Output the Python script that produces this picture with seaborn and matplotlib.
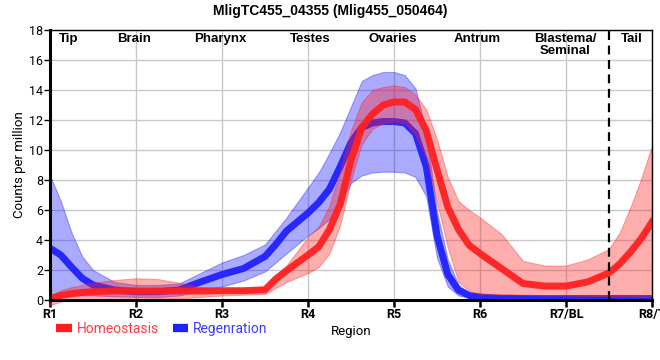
import numpy as np
import pandas as pd
import seaborn as sns
import matplotlib.pyplot as plt
from matplotlib.lines import Line2D

# positions along the body (0 = R1 ... 7 = R8/T)
pos = [0, 0.125, 0.25, 0.375, 0.5, 0.75, 1, 1.25, 1.5, 1.75, 2, 2.25, 2.5, 2.625, 2.75,
       3, 3.125, 3.25, 3.375, 3.5, 3.625, 3.75, 3.875, 4, 4.125, 4.25, 4.375, 4.5, 4.625,
       4.75, 4.875, 5, 5.25, 5.5, 5.75, 6, 6.25, 6.5, 6.625, 6.75, 6.875, 7]

homeo_mean = [0.1, 0.3, 0.42, 0.5, 0.55, 0.6, 0.6, 0.6, 0.6, 0.6, 0.62, 0.62, 0.68, 1.4, 1.95,
              3.0, 3.55, 4.7, 6.4, 9.3, 11.5, 12.4, 13.0, 13.2, 13.2, 12.7, 11.3, 8.7, 6.2,
              4.7, 3.65, 3.1, 2.1, 1.1, 0.93, 0.93, 1.2, 1.8, 2.4, 3.2, 4.1, 5.2]
homeo_hi = [0.25, 0.65, 0.85, 1.0, 1.15, 1.33, 1.45, 1.4, 1.15, 0.85, 0.75, 0.75, 0.85, 1.6, 2.3,
            4.2, 4.9, 6.3, 8.6, 11.3, 13.2, 14.0, 14.2, 14.3, 14.2, 13.7, 12.7, 10.7, 8.2,
            6.6, 6.0, 5.5, 4.4, 2.6, 2.3, 2.3, 2.7, 3.4, 4.5, 6.2, 8.1, 10.3]
homeo_lo = [-0.35, -0.1, 0.0, 0.02, 0.03, 0.05, 0.05, 0.08, 0.1, 0.2, 0.3, 0.35, 0.4, 0.8, 1.2,
            1.8, 2.2, 3.1, 5.0, 8.0, 10.4, 11.4, 11.8, 11.9, 11.8, 11.0, 9.5, 6.5, 3.5,
            1.2, 0.6, 0.4, 0.38, 0.35, 0.32, 0.3, 0.28, 0.25, 0.24, 0.22, 0.21, 0.2]

regen_mean = [3.45, 3.0, 2.2, 1.45, 1.0, 0.67, 0.55, 0.55, 0.67, 1.2, 1.7, 2.1, 2.9, 3.7, 4.6,
              5.8, 6.5, 7.4, 8.9, 10.5, 11.5, 11.8, 11.9, 11.9, 11.8, 11.1, 8.9, 4.3, 1.7,
              0.65, 0.3, 0.2, 0.12, 0.1, 0.1, 0.1, 0.1, 0.1, 0.1, 0.1, 0.1, 0.1]
regen_hi = [8.3, 6.6, 4.5, 2.9, 2.0, 1.2, 1.0, 1.0, 1.1, 1.8, 2.5, 3.0, 3.7, 4.6, 5.5,
            7.5, 8.5, 9.8, 11.2, 12.9, 14.6, 15.0, 15.2, 15.2, 15.0, 14.1, 11.2, 5.9, 2.7,
            1.0, 0.5, 0.35, 0.3, 0.3, 0.3, 0.28, 0.27, 0.26, 0.26, 0.25, 0.25, 0.25]
regen_lo = [0.3, 0.3, 0.3, 0.3, 0.3, 0.25, 0.2, 0.2, 0.3, 0.6, 0.9, 1.3, 1.9, 2.5, 3.1,
            4.3, 4.8, 5.4, 6.5, 7.8, 8.3, 8.5, 8.55, 8.55, 8.5, 8.2, 6.9, 2.8, 0.9,
            0.3, 0.15, 0.08, 0.05, 0.05, 0.05, 0.05, 0.05, 0.05, 0.05, 0.05, 0.05, 0.05]

tick_labels = ["R1", "R2", "R3", "R4", "R5", "R6", "R7/BL", "R8/T"]
region_names = ["Tip", "Brain", "Pharynx", "Testes", "Ovaries", "Antrum", "Blastema/\nSeminal", "Tail"]
region_pos = [0.22, 0.98, 1.98, 3.02, 3.99, 4.97, 5.99, 6.76]

red = "#ff2020"
blue = "#2020ff"

df = pd.DataFrame({"pos": pos, "homeo": homeo_mean, "regen": regen_mean})

fig = plt.figure(figsize=(6.6, 3.6), dpi=100)
ax = fig.add_axes([50 / 660, 60 / 360, 602 / 660, 270 / 360])

# bands + lines (blue under red)
ax.fill_between(pos, regen_lo, regen_hi, color=blue, alpha=0.38, lw=0.8, zorder=2)
sns.lineplot(data=df, x="pos", y="regen", color=blue, lw=5, alpha=0.95, ax=ax, zorder=3)
ax.fill_between(pos, homeo_lo, homeo_hi, color=red, alpha=0.36, lw=0.8, zorder=4, clip_on=False)
sns.lineplot(data=df, x="pos", y="homeo", color=red, lw=5, alpha=0.95, ax=ax, zorder=5)

ax.axvline(6.5, color="black", lw=1.6, ls=(0, (4, 2.5)), zorder=6)

ax.set_xlim(0, 7)
ax.set_ylim(0, 18)
ax.set_xticks(range(8))
ax.set_xticklabels(tick_labels, fontsize=9, fontfamily="Roboto", fontweight="bold")
ax.set_yticks(range(0, 19, 2))
ax.set_yticklabels([str(v) for v in range(0, 19, 2)], fontsize=9, fontfamily="Roboto")
ax.grid(True, color="#c8c8c8", lw=1, zorder=0)
ax.set_axisbelow(True)
ax.tick_params(axis="x", length=5, width=1.8, pad=1)
ax.tick_params(axis="y", length=4, width=1, pad=1)

for s in ["left", "bottom"]:
    ax.spines[s].set_linewidth(2.2)
for s in ["top", "right"]:
    ax.spines[s].set_linewidth(1)
for s in ax.spines.values():
    s.set_color("black")
    s.set_zorder(7)

ax.set_xlabel("Region", fontsize=9.5, fontfamily="Roboto", labelpad=3)
ax.set_ylabel("Counts per million", fontsize=9.5, fontfamily="Roboto")
ax.yaxis.set_label_coords(-0.04, 0.5)

for name, p in zip(region_names, region_pos):
    ax.text(p, 17.8, name, ha="center", va="top", fontsize=9.5, fontweight="bold",
            fontfamily="Liberation Sans", linespacing=0.95, zorder=8)

fig.text(0.5, 0.99, "MligTC455_04355 (Mlig455_050464)", ha="center", va="top",
         fontsize=10, fontweight="bold", fontfamily="Liberation Sans")

handles = [Line2D([], [], color=red, lw=6, solid_capstyle="butt"),
           Line2D([], [], color=blue, lw=6, solid_capstyle="butt")]
ax.legend(handles, ["Homeostasis", "Regenration"], loc="upper left",
          bbox_to_anchor=(-0.01, -0.035), ncol=2, frameon=False, handlelength=1.1,
          handletextpad=0.35, columnspacing=1.0, labelcolor=["#ff3b3b", "#3b3bff"],
          prop={"family": "Roboto", "size": 10})

fig.savefig("out.png", dpi=100)
plt.close()
